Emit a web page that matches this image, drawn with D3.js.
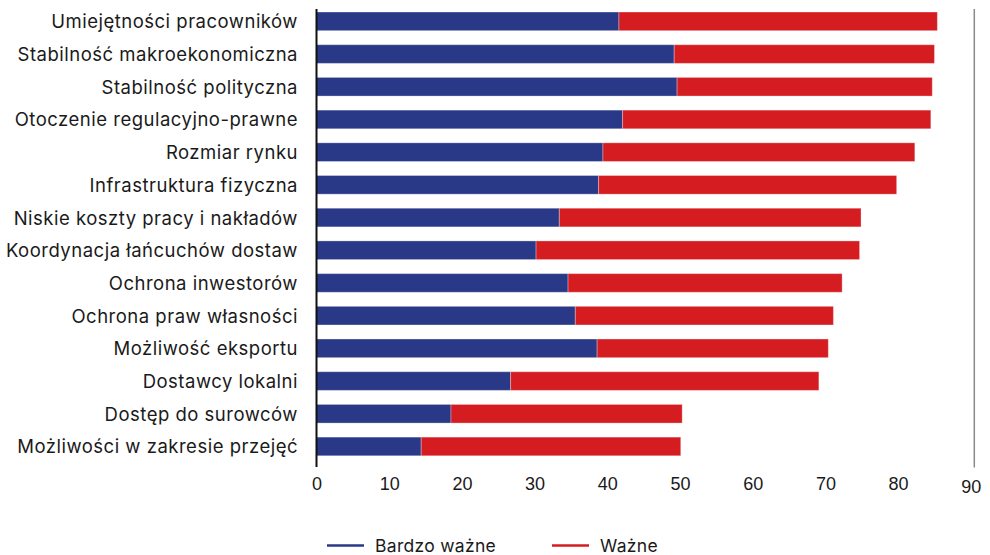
<!DOCTYPE html>
<html>
<head>
<meta charset="utf-8">
<script src="https://cdn.jsdelivr.net/npm/d3@7"></script>
<style>
  html, body { margin: 0; padding: 0; background: #fff; }
  svg { display: block; }
  .cat { font-family: Inter, "Noto Sans", sans-serif; font-size: 18.5px; letter-spacing: 0.5px; fill: #1a1a1a; }
  .legend text { font-family: Inter, "Noto Sans", sans-serif; font-size: 17.5px; letter-spacing: 0.3px; fill: #1a1a1a; }
</style>
</head>
<body>
<svg id="chart" width="990" height="555"></svg>
<script>
// Czynniki lokalizacji inwestycji – odsetek odpowiedzi
const categories = [
  "Umiejętności pracowników",
  "Stabilność makroekonomiczna",
  "Stabilność polityczna",
  "Otoczenie regulacyjno-prawne",
  "Rozmiar rynku",
  "Infrastruktura fizyczna",
  "Niskie koszty pracy i nakładów",
  "Koordynacja łańcuchów dostaw",
  "Ochrona inwestorów",
  "Ochrona praw własności",
  "Możliwość eksportu",
  "Dostawcy lokalni",
  "Dostęp do surowców",
  "Możliwości w zakresie przejęć"
];
const bardzoWazne = [41.6, 49.2, 49.6, 42.1, 39.4, 38.8, 33.4, 30.2, 34.6, 35.6, 38.6, 26.7, 18.5, 14.4];
const wazne       = [43.8, 35.8, 35.1, 42.4, 42.9, 41.0, 41.5, 44.5, 37.7, 35.5, 31.8, 42.4, 31.8, 35.7];
const seriesNames = ["Bardzo ważne", "Ważne"];
const seriesColors = ["#2a3987", "#d51c21"];
const tickValues = [0, 10, 20, 30, 40, 50, 60, 70, 80, 90];

const svg = d3.select("#chart");

const x = d3.scaleLinear().domain([0, 90]).range([316.5, 970.8]);
const y = d3.scaleBand()
  .domain(categories)
  .range([5, 5 + categories.length * 32.7])
  .paddingInner(0.43)
  .paddingOuter(0.215);

const rows = categories.map((c, i) => ({ cat: c, "Bardzo ważne": bardzoWazne[i], "Ważne": wazne[i] }));
const stacked = d3.stack().keys(seriesNames)(rows);

// bars
svg.append("g")
  .selectAll("g")
  .data(stacked)
  .join("g")
    .attr("fill", (d, i) => seriesColors[i])
  .selectAll("rect")
  .data(d => d)
  .join("rect")
    .attr("x", d => x(d[0]))
    .attr("y", d => y(d.data.cat))
    .attr("width", d => x(d[1]) - x(d[0]))
    .attr("height", y.bandwidth())
    .attr("stroke", "#fff")
    .attr("stroke-opacity", 0.3)
    .attr("stroke-width", 1);

// category labels
svg.append("g")
  .selectAll("text")
  .data(categories)
  .join("text")
    .attr("class", "cat")
    .attr("x", 298)
    .attr("y", d => y(d) + y.bandwidth() / 2)
    .attr("text-anchor", "end")
    .attr("dominant-baseline", "central")
    .text(d => d);

// value axis (labels only)
const axis = svg.append("g")
  .attr("transform", "translate(0,473)")
  .call(d3.axisBottom(x).tickValues(tickValues).tickSize(0).tickPadding(4));
axis.select(".domain").remove();
axis.selectAll(".tick text")
  .style("font-family", "'Liberation Sans', Arial, sans-serif")
  .style("font-size", "18px")
  .style("fill", "#1a1a1a");
axis.selectAll(".tick").filter(d => d === 90).select("text").attr("dy", 16.3);

// vertical reference lines
svg.append("line")
  .attr("x1", x(0)).attr("x2", x(0))
  .attr("y1", 9).attr("y2", 467)
  .attr("stroke", "#111").attr("stroke-width", 2);
svg.append("line")
  .attr("x1", x(90) + 3.5).attr("x2", x(90) + 3.5)
  .attr("y1", 9).attr("y2", 467.5)
  .attr("stroke", "#8a8a8a").attr("stroke-width", 1.5);

// legend
const legend = svg.append("g").attr("class", "legend");
const legendX = [327, 552];
seriesNames.forEach((name, i) => {
  const g = legend.append("g").attr("transform", `translate(${legendX[i]},545.5)`);
  g.append("line").attr("x1", 0).attr("x2", 37).attr("y1", 0).attr("y2", 0)
    .attr("stroke", seriesColors[i]).attr("stroke-width", 2.5);
  g.append("text").attr("x", 48).attr("y", 0).attr("dominant-baseline", "central").text(name);
});
</script>
</body>
</html>
